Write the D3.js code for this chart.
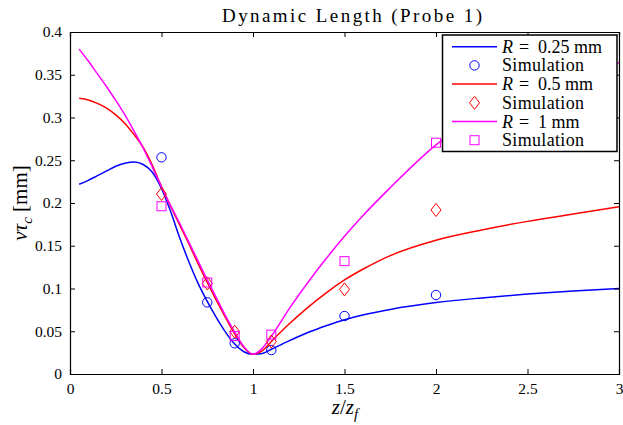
<!DOCTYPE html>
<html>
<head>
<meta charset="utf-8">
<script src="https://cdn.jsdelivr.net/npm/d3@7"></script>
<style>
  html, body { margin: 0; padding: 0; background: #fff; }
  svg { display: block; font-family: "Liberation Serif", "DejaVu Serif", serif; }
</style>
</head>
<body>
<svg id="chart" width="623" height="425"></svg>
<script>
// Model curves
const curveX = [0.05, 0.1, 0.15, 0.2, 0.25, 0.3, 0.35, 0.4, 0.45, 0.5, 0.55, 0.6, 0.65, 0.7, 0.75, 0.8, 0.85, 0.9, 0.95, 1.0, 1.05, 1.1, 1.2, 1.3, 1.4, 1.5, 1.6, 1.75, 2, 2.25, 2.5, 2.75, 3];
const blueCurve = [0.222, 0.2265, 0.232, 0.2375, 0.243, 0.2465, 0.248, 0.245, 0.236, 0.217, 0.19, 0.159, 0.131, 0.106, 0.085, 0.066, 0.049, 0.035, 0.026, 0.023, 0.024, 0.029, 0.039, 0.0485, 0.0565, 0.0635, 0.0690, 0.0755, 0.0835, 0.0890, 0.0935, 0.0970, 0.100];
const redCurve = [0.3225, 0.3205, 0.3165, 0.311, 0.303, 0.293, 0.280, 0.265, 0.244, 0.219, 0.196, 0.174, 0.152, 0.129, 0.107, 0.086, 0.066, 0.047, 0.031, 0.023, 0.027, 0.038, 0.059, 0.078, 0.095, 0.110, 0.1225, 0.1385, 0.1565, 0.1685, 0.1785, 0.187, 0.1955];
const magentaCurve = [0.380, 0.366, 0.351, 0.336, 0.320, 0.303, 0.284, 0.264, 0.242, 0.219, 0.197, 0.176, 0.154, 0.132, 0.110, 0.089, 0.068, 0.049, 0.032, 0.023, 0.030, 0.044, 0.077, 0.107, 0.135, 0.161, 0.185, 0.218, 0.268, 0.305, 0.332, 0.351, 0.364];

// Simulation points
const simX = [0.5, 0.75, 0.9, 1.1, 1.5, 2];
const blueSim = [0.2534, 0.0838, 0.0359, 0.028, 0.0678, 0.0924];
const redSim = [0.2105, 0.106, 0.0495, 0.038, 0.099, 0.1918];
const magentaSim = [0.1962, 0.107, 0.0444, 0.046, 0.132, 0.2705];

const xTicks = [0, 0.5, 1, 1.5, 2, 2.5, 3];
const yTicks = [0, 0.05, 0.1, 0.15, 0.2, 0.25, 0.3, 0.35, 0.4];

const series = [
  { name: "0.25 mm", color: "#0000ff", curve: blueCurve, sim: blueSim, marker: "circle", labelW: 102 },
  { name: "0.5 mm", color: "#ff0000", curve: redCurve, sim: redSim, marker: "diamond", labelW: 92 },
  { name: "1 mm", color: "#ff00ff", curve: magentaCurve, sim: magentaSim, marker: "square", labelW: 80 }
];

const svg = d3.select("#chart");
const margin = { top: 32, right: 4, bottom: 51, left: 70 };
const width = 623 - margin.left - margin.right;
const height = 425 - margin.top - margin.bottom;

const x = d3.scaleLinear().domain([0, 3]).range([margin.left, margin.left + width]);
const y = d3.scaleLinear().domain([0, 0.4]).range([margin.top + height, margin.top]);

svg.append("defs").append("clipPath").attr("id", "plot-clip")
  .append("rect")
  .attr("x", margin.left).attr("y", margin.top)
  .attr("width", width).attr("height", height);

// marker drawing
function drawMarker(g, type, cx, cy, color) {
  if (type === "circle") {
    g.append("circle").attr("cx", cx).attr("cy", cy).attr("r", 4.7)
      .attr("fill", "none").attr("stroke", color).attr("stroke-width", 1);
  } else if (type === "diamond") {
    g.append("path")
      .attr("d", `M${cx},${cy - 6.5}L${cx + 5},${cy}L${cx},${cy + 6.5}L${cx - 5},${cy}Z`)
      .attr("fill", "none").attr("stroke", color).attr("stroke-width", 1);
  } else {
    g.append("rect").attr("x", cx - 4.5).attr("y", cy - 4.5).attr("width", 9).attr("height", 9)
      .attr("fill", "none").attr("stroke", color).attr("stroke-width", 1);
  }
}

const line = d3.line()
  .x(d => x(d[0]))
  .y(d => y(d[1]))
  .curve(d3.curveMonotoneX);

const plot = svg.append("g").attr("clip-path", "url(#plot-clip)");

series.forEach(s => {
  plot.append("path")
    .datum(curveX.map((v, i) => [v, s.curve[i]]))
    .attr("d", line)
    .attr("fill", "none")
    .attr("stroke", s.color)
    .attr("stroke-width", 1.5);
});

series.forEach(s => {
  const g = plot.append("g");
  simX.forEach((v, i) => drawMarker(g, s.marker, x(v), y(s.sim[i]), s.color));
});

// Axes (ticks pointing inward on all four sides)
const fmt = d => String(d);
svg.append("g")
  .attr("transform", `translate(0,${margin.top + height})`)
  .call(d3.axisBottom(x).tickValues(xTicks).tickSize(-5).tickPadding(9).tickFormat(fmt));
svg.append("g")
  .attr("transform", `translate(0,${margin.top})`)
  .call(d3.axisTop(x).tickValues(xTicks).tickSize(-5).tickFormat(""));
svg.append("g")
  .attr("transform", `translate(${margin.left},0)`)
  .call(d3.axisLeft(y).tickValues(yTicks).tickSize(-5).tickPadding(8).tickFormat(fmt));
svg.append("g")
  .attr("transform", `translate(${margin.left + width},0)`)
  .call(d3.axisRight(y).tickValues(yTicks).tickSize(-5).tickFormat(""));

svg.selectAll(".domain").attr("stroke", "#000").attr("stroke-width", 1.2);
svg.selectAll(".tick line").attr("stroke", "#000");
svg.selectAll(".tick text")
  .attr("fill", "#000")
  .style("font-family", "'Liberation Serif', serif")
  .style("font-size", "15.5px");

// Title
svg.append("text")
  .attr("x", 222).attr("y", 22)
  .attr("textLength", 260).attr("lengthAdjust", "spacing")
  .style("font-size", "19px")
  .text("Dynamic Length (Probe 1)");

// X label: z/z_f
const xl = svg.append("text")
  .attr("x", 345).attr("y", 414)
  .attr("text-anchor", "middle")
  .style("font-size", "21px");
xl.append("tspan").style("font-style", "italic").text("z");
xl.append("tspan").text("/");
xl.append("tspan").style("font-style", "italic").text("z");
xl.append("tspan").style("font-style", "italic").style("font-size", "15px").attr("dy", 5).text("f");

// Y label: v tau_c [mm]
const yl = svg.append("text")
  .attr("transform", "translate(27,203) rotate(-90)")
  .attr("text-anchor", "middle")
  .style("font-size", "21px");
yl.append("tspan").style("font-style", "italic").text("vτ");
yl.append("tspan").style("font-style", "italic").style("font-size", "15px").attr("dy", 5).text("c");
yl.append("tspan").attr("dy", -5).text(" [mm]");

// Legend
const legend = svg.append("g");
const lx = 442.5, ly = 35, lw = 174.5, lh = 116.5;
legend.append("rect")
  .attr("x", lx).attr("y", ly).attr("width", lw).attr("height", lh)
  .attr("fill", "#fff").attr("stroke", "#000").attr("stroke-width", 1.5);

const rowH = 18.7;
series.forEach((s, i) => {
  const y1 = ly + 11.7 + rowH * 2 * i;
  const y2 = y1 + rowH;
  legend.append("line")
    .attr("x1", 452).attr("x2", 497).attr("y1", y1).attr("y2", y1)
    .attr("stroke", s.color).attr("stroke-width", 1.5);
  const t = legend.append("text").attr("x", 502).attr("y", y1 + 6)
    .style("font-size", "18px");
  t.append("tspan").style("font-style", "italic").text("R");
  t.append("tspan").attr("x", 519).text("=");
  t.append("tspan").attr("x", 538).text(s.name);
  drawMarker(legend, s.marker, 474.5, y2, s.color);
  legend.append("text").attr("x", 502).attr("y", y2 + 6)
    .attr("textLength", 82).attr("lengthAdjust", "spacing")
    .style("font-size", "18px").text("Simulation");
});
</script>
</body>
</html>
